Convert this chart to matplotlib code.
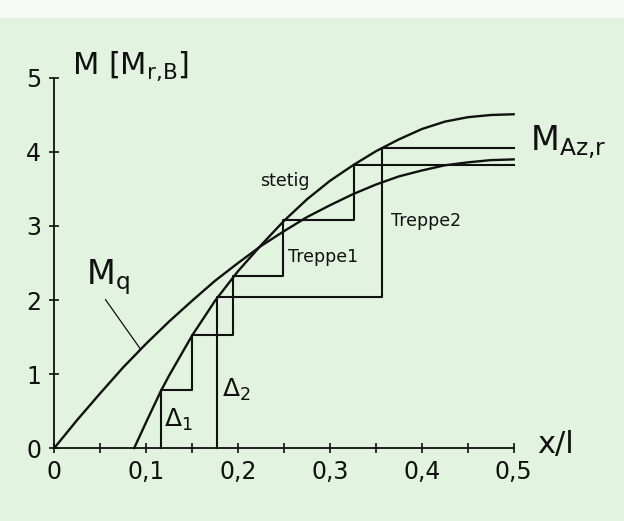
import numpy as np
import matplotlib
matplotlib.use("Agg")
import matplotlib.pyplot as plt
from matplotlib.ticker import FixedLocator, MultipleLocator
from matplotlib.patches import Rectangle

# ---- data ----
x_q = [0.0, 0.025, 0.05, 0.075, 0.1, 0.125, 0.15, 0.175, 0.2, 0.225, 0.25,
       0.275, 0.3, 0.325, 0.35, 0.375, 0.4, 0.425, 0.45, 0.475, 0.5]
m_q = [0.0, 0.38, 0.74, 1.09, 1.41, 1.71, 1.99, 2.26, 2.50, 2.73, 2.93,
       3.12, 3.28, 3.43, 3.56, 3.67, 3.75, 3.82, 3.86, 3.89, 3.90]

x_stetig = [0.087, 0.1, 0.116, 0.125, 0.15, 0.175, 0.2, 0.225, 0.25, 0.275,
            0.3, 0.325, 0.35, 0.375, 0.4, 0.425, 0.45, 0.475, 0.5]
m_stetig = [0.0, 0.35, 0.77, 0.98, 1.52, 1.99, 2.39, 2.74, 3.07, 3.36,
            3.61, 3.82, 4.01, 4.17, 4.31, 4.41, 4.47, 4.50, 4.51]

x_treppe1 = [0.116, 0.116, 0.150, 0.195, 0.249, 0.326, 0.5]
m_treppe1 = [0.0, 0.78, 1.53, 2.32, 3.08, 3.83, 3.83]

x_treppe2 = [0.177, 0.177, 0.357, 0.5]
m_treppe2 = [0.0, 2.04, 4.06, 4.06]

x_ticks = [0.0, 0.1, 0.2, 0.3, 0.4, 0.5]
x_ticklabels = ["0", "0,1", "0,2", "0,3", "0,4", "0,5"]
y_ticks = [0, 1, 2, 3, 4, 5]
y_ticklabels = ["0", "1", "2", "3", "4", "5"]

# ---- style ----
bg = "#e2f3df"
ink = "#111111"
plt.rcParams["font.family"] = ["DejaVu Sans"]
plt.rcParams["mathtext.fontset"] = "dejavusans"

fig = plt.figure(figsize=(6.24, 5.21), dpi=100)
fig.patch.set_facecolor(bg)
fig.patches.append(Rectangle((0, 0.966), 1, 0.034, transform=fig.transFigure,
                             facecolor="#f6fbf5", edgecolor="none", zorder=0))

ax = fig.add_axes([0.0870, 0.1401, 0.7362, 0.7102])
ax.set_facecolor("none")
ax.set_xlim(0, 0.5)
ax.set_ylim(0, 5)

for s in ["top", "right"]:
    ax.spines[s].set_visible(False)
for s in ["left", "bottom"]:
    ax.spines[s].set_color(ink)
    ax.spines[s].set_linewidth(1.3)

ax.xaxis.set_major_locator(FixedLocator(x_ticks))
ax.set_xticklabels(x_ticklabels)
ax.xaxis.set_minor_locator(MultipleLocator(0.05))
ax.yaxis.set_major_locator(FixedLocator(y_ticks))
ax.set_yticklabels(y_ticklabels)
ax.tick_params(axis="both", which="both", direction="inout", length=7,
               width=1.2, color=ink, labelcolor=ink, labelsize=17)
ax.tick_params(axis="x", which="major", pad=5)
ax.tick_params(axis="y", which="major", pad=6)

lw = 1.7
ax.plot(x_q, m_q, color=ink, lw=lw, clip_on=False)
ax.plot(x_stetig, m_stetig, color=ink, lw=lw, clip_on=False)
ax.plot(x_treppe1, m_treppe1, color=ink, lw=1.5, drawstyle="steps-post", clip_on=False)
ax.plot(x_treppe2, m_treppe2, color=ink, lw=1.5, drawstyle="steps-post", clip_on=False)

# ---- labels ----
ax.text(0.019, 5.06, r"M [M$_{\rm r{,}B}$]", fontsize=22, color=ink,
        ha="left", va="baseline", clip_on=False)
ax.text(0.526, -0.07, "x/l", fontsize=22, color=ink, ha="left", va="baseline",
        clip_on=False)
ax.text(0.518, 4.02, r"M$_{\rm Az{,}r}$", fontsize=24, color=ink, ha="left",
        va="baseline", clip_on=False)

ax.annotate(r"M$_{\rm q}$", xy=(0.094, float(np.interp(0.094, x_q, m_q))),
            xytext=(0.0345, 2.215), fontsize=24, color=ink, ha="left",
            va="baseline",
            arrowprops=dict(arrowstyle="-", lw=0.9, color=ink, shrinkA=0,
                            shrinkB=0, relpos=(0.4, 0.0)))

ax.text(0.2511, 3.614, "stetig", fontsize=12.5, color=ink, ha="center", va="center")
ax.text(0.2929, 2.575, "Treppe1", fontsize=12.5, color=ink, ha="center", va="center")
ax.text(0.405, 3.064, "Treppe2", fontsize=12.5, color=ink, ha="center", va="center")

ax.text(0.119, 0.285, r"$\Delta_1$", fontsize=18, color=ink, ha="left", va="baseline")
ax.text(0.1825, 0.69, r"$\Delta_2$", fontsize=18, color=ink, ha="left", va="baseline")

fig.savefig("out.png", dpi=100, facecolor=fig.get_facecolor())
